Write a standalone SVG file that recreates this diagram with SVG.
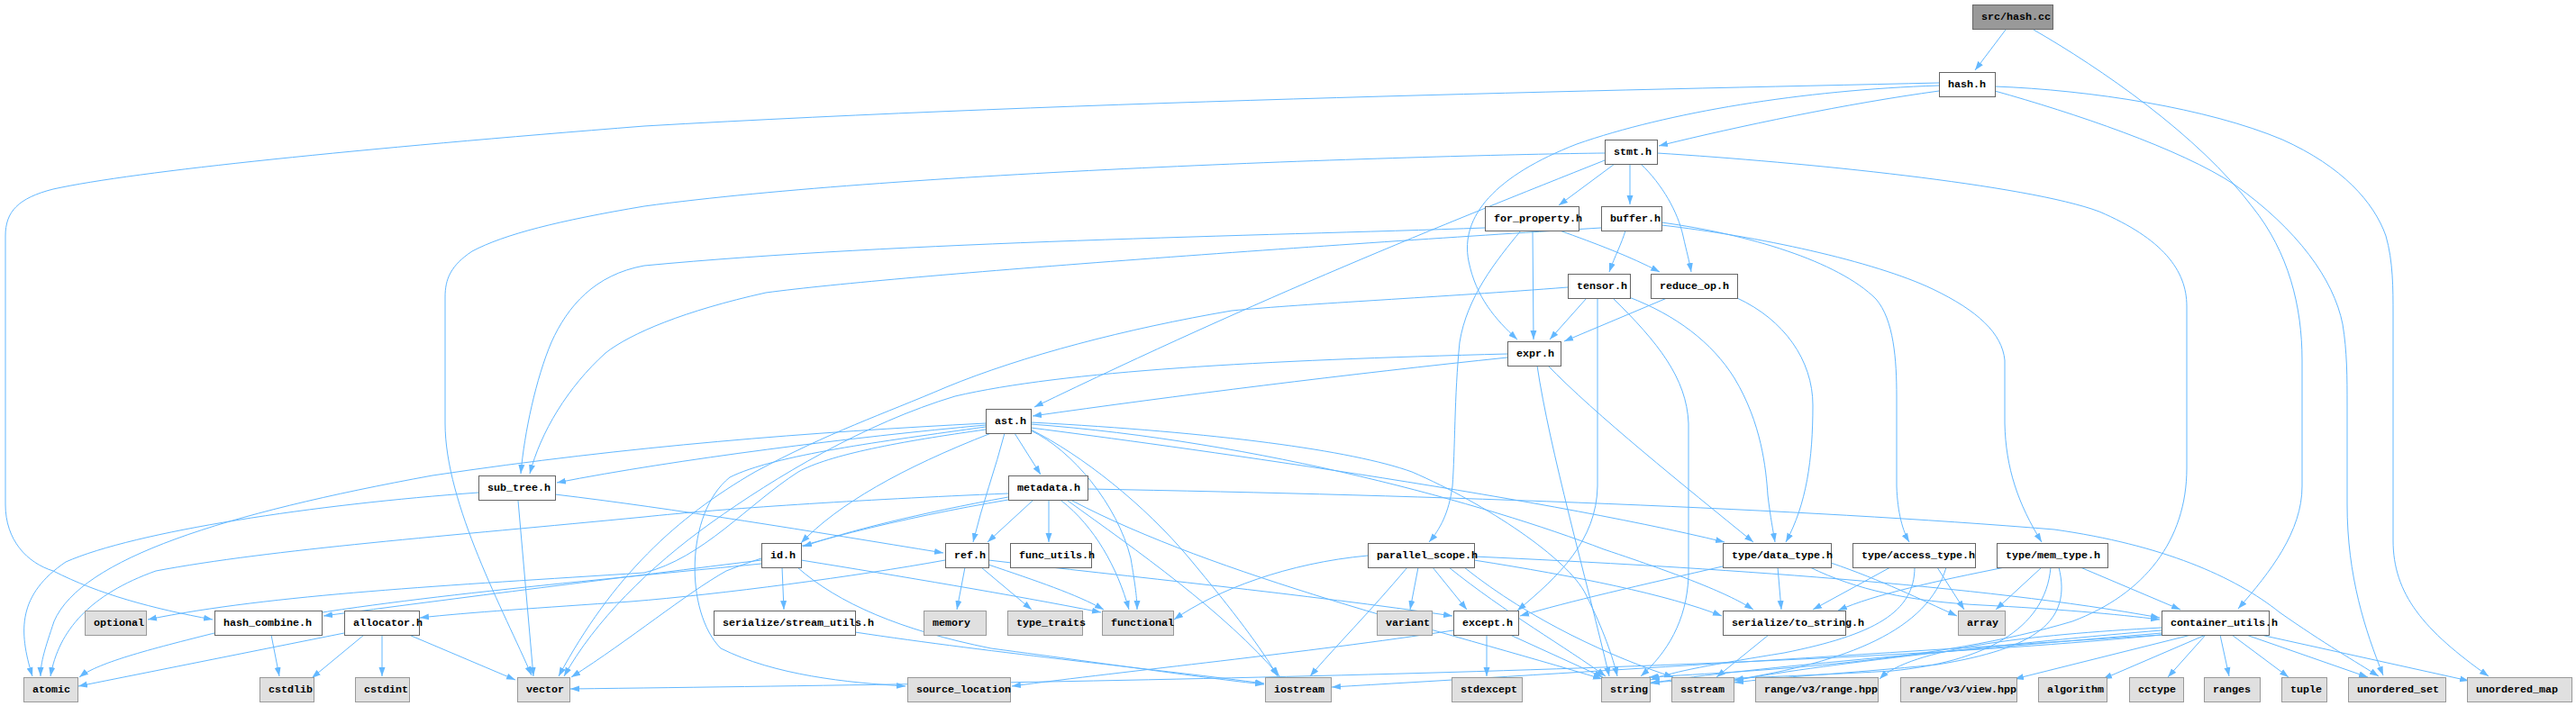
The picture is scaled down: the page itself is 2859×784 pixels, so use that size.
<svg xmlns="http://www.w3.org/2000/svg" width="2859" height="784" viewBox="0 0 2859 784">
<defs>
<marker id="a" markerUnits="userSpaceOnUse" markerWidth="11" markerHeight="8" refX="10" refY="4" orient="auto"><path d="M0,0.5 L10,4 L0,7.5 z" fill="#63b8ff"/></marker>
<style>
.n rect{fill:#ffffff;stroke:#666666;stroke-width:1}
.l rect{fill:#e0e0e0;stroke:#999999;stroke-width:1}
.r rect{fill:#999999;stroke:#666666;stroke-width:1}
text{font-family:"Liberation Mono","DejaVu Sans Mono",monospace;font-size:11.67px;font-weight:bold;fill:#000000}
.e path{fill:none;stroke:#63b8ff;stroke-width:1;marker-end:url(#a)}
</style>
</defs>
<rect width="2859" height="784" fill="#ffffff"/>
<g class="e" id="edges">
<path d="M2226,33 L2192,78"/>
<path d="M2257,33 C2330,75 2440,150 2500,230 C2540,280 2555,340 2555,400 L2555,540 C2555,590 2520,635 2484,676"/>
<path d="M2152,101 C2050,115 1930,140 1841,162"/>
<path d="M2152,95 C2000,100 1850,125 1750,160 C1660,195 1620,240 1630,290 C1638,330 1660,355 1684,377"/>
<path d="M2152,92 C1800,100 1200,112 715,140 C400,165 150,190 59,210 C20,220 6,235 6,262 L6,560 C6,600 30,625 59,634 C110,660 170,676 236,688"/>
<path d="M2214,96 C2320,100 2450,120 2533,155 C2600,185 2635,225 2648,262 C2656,290 2656,320 2656,350 L2656,600 C2656,660 2690,700 2762,751"/>
<path d="M2214,101 C2300,125 2420,165 2480,205 C2550,255 2590,310 2600,360 C2605,390 2605,420 2605,450 L2605,560 C2605,640 2625,700 2645,750"/>
<path d="M1792,182 L1730,228"/>
<path d="M1809,182 L1809,227"/>
<path d="M1821,182 C1845,205 1862,235 1868,262 C1872,280 1875,290 1877,302"/>
<path d="M1781,178 C1600,250 1400,330 1148,452"/>
<path d="M1781,170 C1600,172 1000,190 715,229 C620,245 560,260 524,279 C500,295 494,310 494,330 L494,470 C494,560 560,680 590,750"/>
<path d="M1839,170 C2000,180 2250,205 2330,235 C2400,265 2427,300 2427,340 L2427,520 C2427,600 2380,660 2300,690 C2150,735 1950,745 1830,752"/>
<path d="M1648,253 C1400,262 1000,268 715,295 C660,305 630,340 612,380 C595,420 582,480 578,526"/>
<path d="M1731,256 C1770,270 1810,285 1842,302"/>
<path d="M1701,256 L1702,377"/>
<path d="M1688,256 C1660,290 1628,330 1620,380 C1614,440 1615,500 1612,540 C1608,570 1598,588 1586,602"/>
<path d="M1804,256 C1800,270 1792,285 1786,302"/>
<path d="M1777,253 C1500,270 1000,305 850,325 C760,345 700,370 672,392 C630,430 600,480 588,526"/>
<path d="M1844,247 C1940,260 2040,290 2082,332 C2102,355 2105,400 2105,440 L2105,540 C2106,570 2112,590 2119,602"/>
<path d="M1844,250 C1950,262 2080,290 2145,321 C2195,345 2222,370 2225,400 L2225,470 C2226,520 2240,560 2266,602"/>
<path d="M1761,331 L1720,377"/>
<path d="M1773,331 L1773,540 C1772,600 1730,640 1684,678"/>
<path d="M1790,331 C1840,380 1872,420 1874,470 L1874,640 C1872,690 1850,725 1821,751"/>
<path d="M1808,330 C1860,350 1900,380 1925,420 C1955,470 1960,520 1962,550 C1965,575 1968,590 1970,602"/>
<path d="M1740,319 C1600,330 1450,337 1367,345 C1250,365 1135,395 1050,430 C980,460 920,480 838,524 C750,575 680,640 620,751"/>
<path d="M1850,331 L1736,379"/>
<path d="M1928,331 C1980,355 2012,400 2012,450 C2012,510 2005,560 1982,602"/>
<path d="M1673,397 C1500,415 1300,440 1146,462"/>
<path d="M1706,406 C1720,500 1760,640 1786,751"/>
<path d="M1717,405 C1770,460 1870,540 1946,602"/>
<path d="M1673,393 C1400,400 1180,412 1060,440 C960,470 860,530 790,580 C720,630 660,690 626,751"/>
<path d="M1094,472 C950,485 750,510 618,536"/>
<path d="M1094,470 C900,480 700,495 480,528 C250,570 90,620 60,690 C50,720 45,735 45,751"/>
<path d="M1094,477 C1000,490 920,505 886,524 C830,560 780,620 715,636 C500,650 300,660 164,688"/>
<path d="M1094,474 C980,490 860,505 810,530 C760,570 760,680 800,720 C860,750 940,758 1005,762"/>
<path d="M1100,481 C1000,520 930,560 889,603"/>
<path d="M1115,481 C1105,520 1090,560 1080,602"/>
<path d="M1126,481 L1155,527"/>
<path d="M1144,478 C1190,500 1240,560 1255,620 C1260,650 1262,665 1262,677"/>
<path d="M1144,477 C1200,505 1270,560 1320,620 C1370,680 1400,720 1418,751"/>
<path d="M1144,475 C1300,495 1700,550 1914,602"/>
<path d="M1144,471 C1400,490 1650,560 1780,610 C1870,640 1920,660 1946,677"/>
<path d="M1144,469 C1350,480 1500,500 1567,524 C1650,560 1740,620 1760,660 C1780,700 1790,730 1795,751"/>
<path d="M575,556 L592,751"/>
<path d="M531,547 C350,560 150,590 73,624 C20,660 20,700 36,751"/>
<path d="M616,549 C750,565 900,590 1047,614"/>
<path d="M1119,552 C1020,570 940,590 891,607"/>
<path d="M1146,556 L1096,602"/>
<path d="M1164,556 L1164,602"/>
<path d="M1178,556 C1215,585 1240,630 1253,677"/>
<path d="M1185,556 C1260,610 1360,680 1420,751"/>
<path d="M1190,556 C1350,640 1600,700 1778,754"/>
<path d="M1207,543 C1600,550 2000,565 2280,588 C2400,605 2480,640 2530,680 C2580,715 2615,735 2640,751"/>
<path d="M1119,555 C1000,575 880,605 806,634 C760,660 700,710 634,752"/>
<path d="M1119,548 C950,555 800,565 715,574 C500,595 300,610 173,634 C100,660 65,700 56,751"/>
<path d="M868,630 L870,677"/>
<path d="M889,622 C1000,640 1120,660 1222,680"/>
<path d="M885,630 C930,670 1000,700 1100,720 C1250,740 1330,752 1403,760"/>
<path d="M845,622 C700,640 500,665 359,684"/>
<path d="M845,626 C600,650 380,670 250,700 C170,720 110,735 88,752"/>
<path d="M1071,630 L1062,677"/>
<path d="M1089,630 L1145,677"/>
<path d="M1097,627 C1150,645 1195,660 1225,677"/>
<path d="M1097,622 C1250,640 1450,660 1612,684"/>
<path d="M1049,622 C950,640 800,660 700,668 C600,675 520,680 466,686"/>
<path d="M1574,630 L1565,677"/>
<path d="M1590,630 L1628,677"/>
<path d="M1562,630 C1520,680 1480,720 1454,751"/>
<path d="M1608,630 C1670,680 1740,720 1782,751"/>
<path d="M1636,622 C1750,640 1850,660 1911,684"/>
<path d="M1636,618 C1900,630 2200,650 2397,686"/>
<path d="M1625,630 C1700,690 1790,730 1857,752"/>
<path d="M1518,617 C1430,625 1350,655 1303,688"/>
<path d="M1650,705 L1650,751"/>
<path d="M1676,705 L1779,752"/>
<path d="M1613,700 C1450,725 1250,745 1123,762"/>
<path d="M1916,628 C1820,650 1740,668 1687,684"/>
<path d="M1973,630 L1977,677"/>
<path d="M2009,630 C2060,655 2120,668 2200,672 C2280,676 2350,682 2397,688"/>
<path d="M2032,625 C2090,645 2130,665 2172,684"/>
<path d="M2098,630 L2012,677"/>
<path d="M2150,630 L2180,677"/>
<path d="M2125,630 C2125,680 2080,705 1980,725 C1900,738 1860,745 1832,755"/>
<path d="M2160,630 C2140,700 2050,735 1925,755"/>
<path d="M2266,630 L2215,677"/>
<path d="M2309,630 L2420,677"/>
<path d="M2225,630 C2150,645 2080,660 2040,678"/>
<path d="M2276,630 C2270,700 2200,735 2100,745 C1980,752 1880,754 1832,758"/>
<path d="M2285,630 C2300,690 2260,720 2150,738 C2050,748 1970,752 1925,758"/>
<path d="M301,705 L310,751"/>
<path d="M382,703 L87,762"/>
<path d="M404,705 L346,753"/>
<path d="M424,705 L424,751"/>
<path d="M454,705 L572,755"/>
<path d="M949,702 C1100,725 1300,745 1403,759"/>
<path d="M1963,705 L1905,752"/>
<path d="M2432,705 L2236,754"/>
<path d="M2448,705 L2334,754"/>
<path d="M2448,705 L2406,752"/>
<path d="M2464,705 L2474,751"/>
<path d="M2477,705 L2540,752"/>
<path d="M2493,705 L2628,752"/>
<path d="M2509,705 L2740,756"/>
<path d="M2399,697 C2250,705 2120,720 2086,754"/>
<path d="M2399,700 C2250,712 2000,740 1925,756"/>
<path d="M2399,703 C2200,720 1900,745 1832,759"/>
<path d="M2399,705 C2100,725 1700,750 1478,763"/>
<path d="M2399,705 C2000,745 1200,758 633,765"/>
</g>
<g id="n_hashcc" class="r"><rect x="2189.5" y="5.5" width="89" height="27"/><text x="2199" y="22">src/hash.cc</text></g>
<g id="n_hash" class="n"><rect x="2152.5" y="80.5" width="62" height="27"/><text x="2162" y="97">hash.h</text></g>
<g id="n_stmt" class="n"><rect x="1781.5" y="155.5" width="58" height="27"/><text x="1791" y="172">stmt.h</text></g>
<g id="n_for_property" class="n"><rect x="1648.5" y="229.5" width="104" height="27"/><text x="1658" y="246">for_property.h</text></g>
<g id="n_buffer" class="n"><rect x="1777.5" y="229.5" width="67" height="27"/><text x="1787" y="246">buffer.h</text></g>
<g id="n_tensor" class="n"><rect x="1740.5" y="304.5" width="69" height="27"/><text x="1750" y="321">tensor.h</text></g>
<g id="n_reduce_op" class="n"><rect x="1832.5" y="304.5" width="96" height="27"/><text x="1842" y="321">reduce_op.h</text></g>
<g id="n_expr" class="n"><rect x="1673.5" y="379.5" width="59" height="27"/><text x="1683" y="396">expr.h</text></g>
<g id="n_ast" class="n"><rect x="1094.5" y="454.5" width="50" height="27"/><text x="1104" y="471">ast.h</text></g>
<g id="n_sub_tree" class="n"><rect x="531.5" y="528.5" width="85" height="27"/><text x="541" y="545">sub_tree.h</text></g>
<g id="n_metadata" class="n"><rect x="1119.5" y="528.5" width="88" height="27"/><text x="1129" y="545">metadata.h</text></g>
<g id="n_id" class="n"><rect x="845.5" y="603.5" width="44" height="27"/><text x="855" y="620">id.h</text></g>
<g id="n_ref" class="n"><rect x="1049.5" y="603.5" width="48" height="27"/><text x="1059" y="620">ref.h</text></g>
<g id="n_func_utils" class="n"><rect x="1121.5" y="603.5" width="90" height="27"/><text x="1131" y="620">func_utils.h</text></g>
<g id="n_parallel_scope" class="n"><rect x="1518.5" y="603.5" width="118" height="27"/><text x="1528" y="620">parallel_scope.h</text></g>
<g id="n_data_type" class="n"><rect x="1912.5" y="603.5" width="120" height="27"/><text x="1922" y="620">type/data_type.h</text></g>
<g id="n_access_type" class="n"><rect x="2056.5" y="603.5" width="136" height="27"/><text x="2066" y="620">type/access_type.h</text></g>
<g id="n_mem_type" class="n"><rect x="2216.5" y="603.5" width="123" height="27"/><text x="2226" y="620">type/mem_type.h</text></g>
<g id="n_optional" class="l"><rect x="94.5" y="678.5" width="68" height="27"/><text x="104" y="695">optional</text></g>
<g id="n_hash_combine" class="n"><rect x="238.5" y="678.5" width="119" height="27"/><text x="248" y="695">hash_combine.h</text></g>
<g id="n_allocator" class="n"><rect x="382.5" y="678.5" width="83" height="27"/><text x="392" y="695">allocator.h</text></g>
<g id="n_stream_utils" class="n"><rect x="792.5" y="678.5" width="157" height="27"/><text x="802" y="695">serialize/stream_utils.h</text></g>
<g id="n_memory" class="l"><rect x="1025.5" y="678.5" width="69" height="27"/><text x="1035" y="695">memory</text></g>
<g id="n_type_traits" class="l"><rect x="1118.5" y="678.5" width="83" height="27"/><text x="1128" y="695">type_traits</text></g>
<g id="n_functional" class="l"><rect x="1223.5" y="678.5" width="79" height="27"/><text x="1233" y="695">functional</text></g>
<g id="n_variant" class="l"><rect x="1528.5" y="678.5" width="61" height="27"/><text x="1538" y="695">variant</text></g>
<g id="n_except" class="n"><rect x="1613.5" y="678.5" width="72" height="27"/><text x="1623" y="695">except.h</text></g>
<g id="n_to_string" class="n"><rect x="1912.5" y="678.5" width="136" height="27"/><text x="1922" y="695">serialize/to_string.h</text></g>
<g id="n_array" class="l"><rect x="2173.5" y="678.5" width="52" height="27"/><text x="2183" y="695">array</text></g>
<g id="n_container_utils" class="n"><rect x="2399.5" y="678.5" width="119" height="27"/><text x="2409" y="695">container_utils.h</text></g>
<g id="n_atomic" class="l"><rect x="26.5" y="752.5" width="60" height="27"/><text x="36" y="769">atomic</text></g>
<g id="n_cstdlib" class="l"><rect x="288.5" y="752.5" width="60" height="27"/><text x="298" y="769">cstdlib</text></g>
<g id="n_cstdint" class="l"><rect x="394.5" y="752.5" width="60" height="27"/><text x="404" y="769">cstdint</text></g>
<g id="n_vector" class="l"><rect x="574.5" y="752.5" width="58" height="27"/><text x="584" y="769">vector</text></g>
<g id="n_source_location" class="l"><rect x="1007.5" y="752.5" width="114" height="27"/><text x="1017" y="769">source_location</text></g>
<g id="n_iostream" class="l"><rect x="1404.5" y="752.5" width="73" height="27"/><text x="1414" y="769">iostream</text></g>
<g id="n_stdexcept" class="l"><rect x="1611.5" y="752.5" width="78" height="27"/><text x="1621" y="769">stdexcept</text></g>
<g id="n_string" class="l"><rect x="1777.5" y="752.5" width="54" height="27"/><text x="1787" y="769">string</text></g>
<g id="n_sstream" class="l"><rect x="1855.5" y="752.5" width="69" height="27"/><text x="1865" y="769">sstream</text></g>
<g id="n_range_hpp" class="l"><rect x="1948.5" y="752.5" width="136" height="27"/><text x="1958" y="769">range/v3/range.hpp</text></g>
<g id="n_view_hpp" class="l"><rect x="2109.5" y="752.5" width="129" height="27"/><text x="2119" y="769">range/v3/view.hpp</text></g>
<g id="n_algorithm" class="l"><rect x="2262.5" y="752.5" width="76" height="27"/><text x="2272" y="769">algorithm</text></g>
<g id="n_cctype" class="l"><rect x="2363.5" y="752.5" width="60" height="27"/><text x="2373" y="769">cctype</text></g>
<g id="n_ranges" class="l"><rect x="2446.5" y="752.5" width="62" height="27"/><text x="2456" y="769">ranges</text></g>
<g id="n_tuple" class="l"><rect x="2532.5" y="752.5" width="50" height="27"/><text x="2542" y="769">tuple</text></g>
<g id="n_unordered_set" class="l"><rect x="2606.5" y="752.5" width="108" height="27"/><text x="2616" y="769">unordered_set</text></g>
<g id="n_unordered_map" class="l"><rect x="2738.5" y="752.5" width="116" height="27"/><text x="2748" y="769">unordered_map</text></g>
</svg>
